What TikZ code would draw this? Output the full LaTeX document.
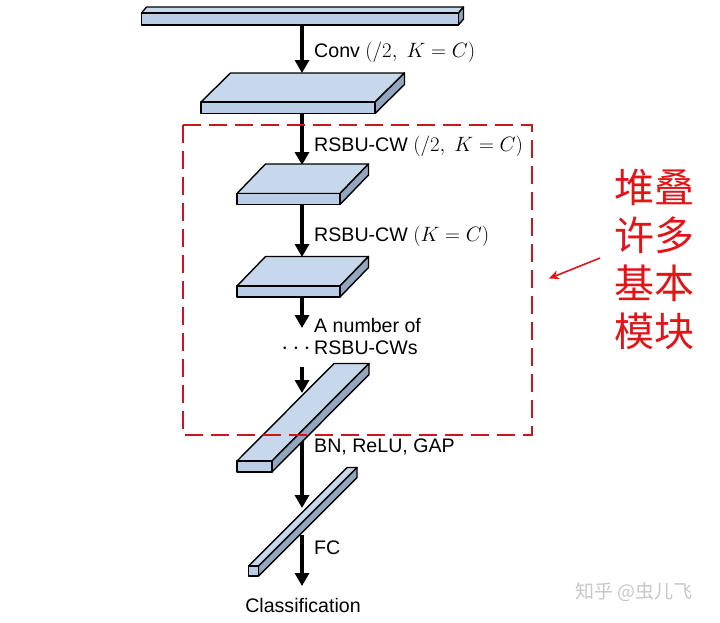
\documentclass[tikz,border=0pt]{standalone}
\usepackage{fontspec}
\setmainfont{Liberation Sans}
\newfontfamily\cjk{Noto Sans CJK SC}
\usetikzlibrary{arrows.meta}
\definecolor{topc}{RGB}{199,216,237}
\definecolor{frontc}{RGB}{186,205,230}
\definecolor{sidec}{RGB}{146,166,192}
\definecolor{boxred}{RGB}{204,22,30}
\definecolor{txtred}{RGB}{226,20,24}
\newcommand\slab[6]{% x, y (front top-left), w, h, dx, dy
  \filldraw[topface] (#1,#2) -- ++(#3,0) -- ++(#5,#6) -- ++(-#3,0) -- cycle;
  \filldraw[sideface] (#1+#3,#2) -- ++(#5,#6) -- ++(0,#4) -- ++(-#5,-#6) -- cycle;
  \filldraw[frontface] (#1,#2) rectangle ++(#3,#4);
}
\newcommand\bigmath[1]{{\fontsize{22}{22}\selectfont$#1$}}
\tikzset{
  slabline/.style={draw=black, line width=1.4pt, line join=round},
  topface/.style={slabline, fill=topc},
  frontface/.style={slabline, fill=frontc},
  sideface/.style={slabline, fill=sidec},
  flow/.style={line width=3.8pt, -{Triangle[width=14pt,length=13pt]}},
  lbl/.style={anchor=west, inner sep=0pt, font=\fontsize{19.6}{22}\selectfont},
}
\begin{document}
\begin{tikzpicture}[x=1pt,y=-1pt]
\useasboundingbox (0,0) rectangle (720,622);
% arrow end points
\coordinate (a1s) at (302,25);  \coordinate (a1e) at (302,73);
\coordinate (a2s) at (302,113); \coordinate (a2e) at (302,165);
\coordinate (a3s) at (302,204); \coordinate (a3e) at (302,257);
\coordinate (a4s) at (302,296); \coordinate (a4e) at (302,328);
\coordinate (a5s) at (302,367); \coordinate (a5e) at (302,393);
\coordinate (a6s) at (302,440); \coordinate (a6e) at (302,508);
\coordinate (a7s) at (302,535); \coordinate (a7e) at (302,586);
\draw[flow] (a1s) -- (a1e);
\draw[flow] (a2s) -- (a2e);
\draw[flow] (a3s) -- (a3e);
\draw[flow] (a4s) -- (a4e);
\draw[flow] (a6s) -- (a6e);
\draw[flow] (a7s) -- (a7e);
% blocks
\slab{141.5}{13}{317}{12}{5}{-6}
\slab{201}{102}{174}{11.5}{29.5}{-29}
\slab{237}{193.5}{103}{11}{28.5}{-29.5}
\slab{237}{286}{103}{11}{28.5}{-29.5}
\slab{237}{461}{35}{11}{97}{-97.5}
\slab{248.5}{566}{10}{10}{98.5}{-98.5}
\draw[flow] (a5s) -- (a5e);
% dashed box
\draw[boxred, line width=2.6pt, dash pattern=on 18pt off 8pt] (183,125) rectangle (532,435);
% labels
\node[lbl] (l1) at (314,52) {Conv \bigmath{(/2,\;K=C)}};
\node[lbl] (l2) at (314,146) {RSBU-CW \bigmath{(/2,\;K=C)}};
\node[lbl] (l3) at (314,236) {RSBU-CW \bigmath{(K=C)}};
\node[lbl] (l4) at (314,325) {A number of};
\node[lbl] (l5) at (314,348) {RSBU-CWs};
\node[anchor=base, inner sep=0pt, font=\fontsize{24}{24}\selectfont] (dots) at (296,354) {$\cdots$};
\node[lbl] (l6) at (314,447) {BN, ReLU, GAP};
\node[lbl] (l7) at (314,548) {FC};
\node[inner sep=0pt, font=\fontsize{19.6}{22}\selectfont] (cls) at (303,605) {Classification};
% chinese annotation
\node[inner sep=0pt, align=center, text=txtred, font=\cjk\fontsize{40}{48}\selectfont] (cn) at (654,259.5) {堆叠\\许多\\基本\\模块};
\coordinate (ra) at (600,258);
\coordinate (rb) at (549,278.5);
\draw[txtred, line width=1.6pt, -{Stealth[width=9pt,length=10pt]}] (ra) -- (rb);
% watermark
\node[inner sep=0pt, text=black!22, font=\cjk\fontsize{19}{22}\selectfont] (wm) at (634,592) {知乎 @虫儿飞};
\end{tikzpicture}
\end{document}
